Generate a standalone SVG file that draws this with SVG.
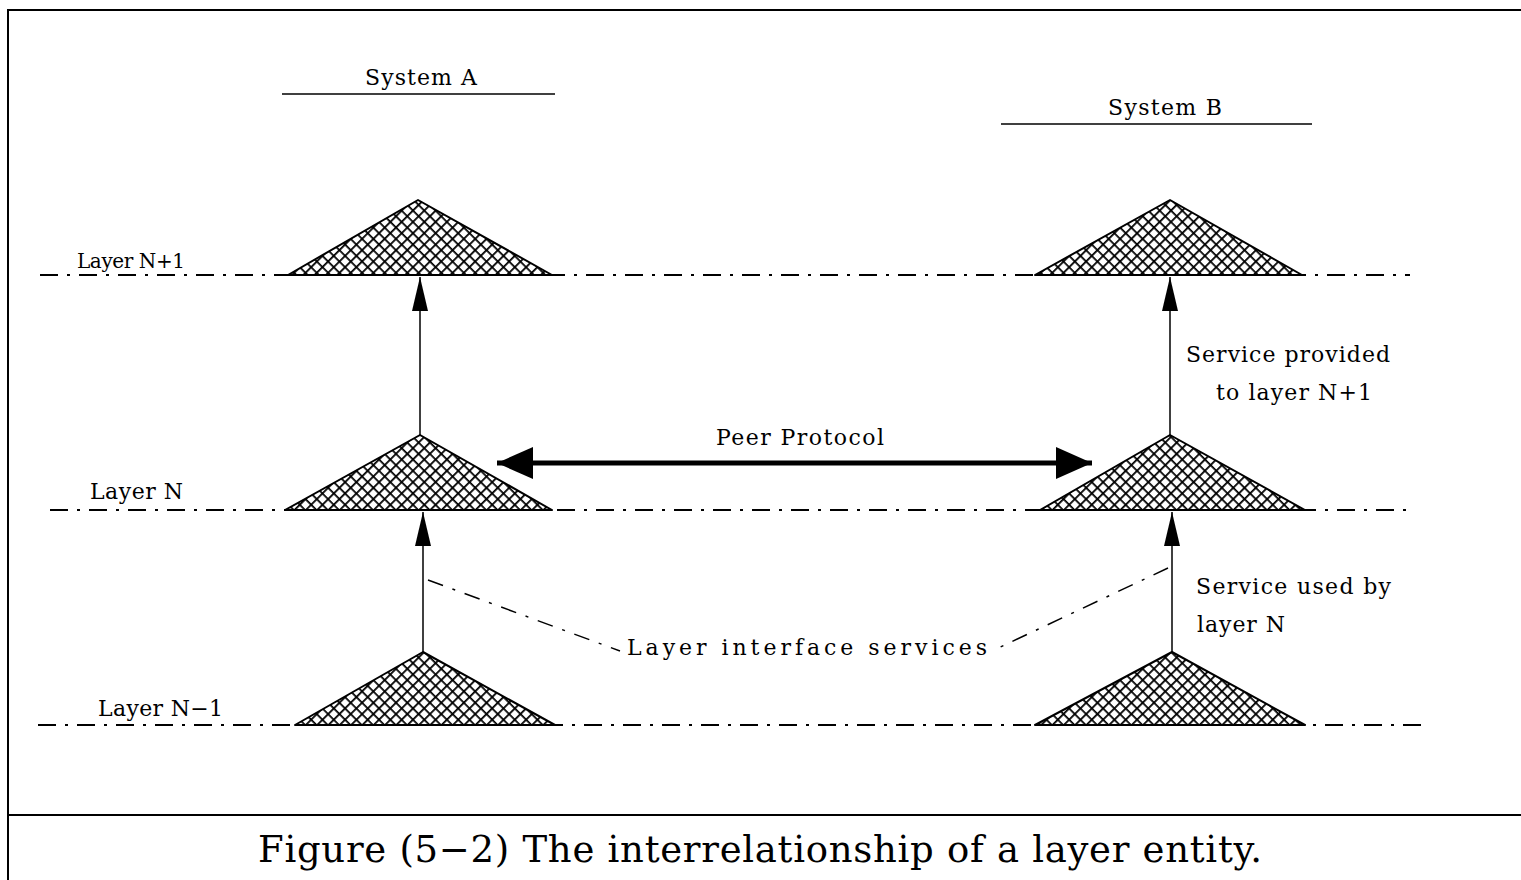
<svg xmlns="http://www.w3.org/2000/svg" width="1521" height="880" viewBox="0 0 1521 880">
<style>
.lbl{font-family:"DejaVu Serif","Liberation Serif",serif;font-size:22px;fill:#000}
.layer{fill:none;stroke:#000;stroke-width:2;stroke-dasharray:18 9 3 9}
.tri{fill:url(#hatch);stroke:#000;stroke-width:2;stroke-linejoin:round}
.conn{stroke:#000;stroke-width:1.5;fill:none}
.lead{stroke:#000;stroke-width:1.5;fill:none;stroke-dasharray:16 10 3 10}
</style>
<defs>
<pattern id="hatch" width="8" height="8" patternUnits="userSpaceOnUse" patternTransform="rotate(45)">
<rect width="8" height="8" fill="#fff"/>
<path d="M0 0H8M0 0V8" stroke="#000" stroke-width="3.6"/>
</pattern>
<marker id="ah" viewBox="0 0 34 16" markerWidth="34" markerHeight="16" refX="34" refY="8" orient="auto" markerUnits="userSpaceOnUse">
<path d="M0 0L34 8L0 16z" fill="#000"/>
</marker>
<marker id="big" viewBox="0 0 36 32" markerWidth="36" markerHeight="32" refX="36" refY="16" orient="auto-start-reverse" markerUnits="userSpaceOnUse">
<path d="M0 0L36 16L0 32z" fill="#000"/>
</marker>
</defs>
<rect width="1521" height="880" fill="#fff"/>
<g id="frame" fill="none" stroke="#000" stroke-width="2">
<path d="M8 880V10H1521"/>
<path d="M8 815H1521"/>
</g>
<g id="layers">
<line class="layer" x1="40" y1="275" x2="1410" y2="275"/>
<line class="layer" x1="50" y1="510" x2="1415" y2="510"/>
<line class="layer" x1="38" y1="725" x2="1425" y2="725"/>
</g>
<g id="systemA">
<text class="lbl" x="421" y="85" text-anchor="middle" textLength="112">System A</text>
<line x1="282" y1="94" x2="555" y2="94" stroke="#000" stroke-width="1.5"/>
</g>
<g id="systemB">
<text class="lbl" x="1165" y="115" text-anchor="middle" textLength="114">System B</text>
<line x1="1001" y1="124" x2="1312" y2="124" stroke="#000" stroke-width="1.5"/>
</g>
<g id="labelN1"><text class="lbl" x="77" y="268" style="font-size:20px" textLength="108">Layer N+1</text></g>
<g id="labelN"><text class="lbl" x="90" y="499" textLength="93">Layer N</text></g>
<g id="labelNm1"><text class="lbl" x="98" y="716" textLength="125">Layer N−1</text></g>
<g id="triA1"><path class="tri" d="M288 275L418 200L552 275Z"/></g>
<g id="triB1"><path class="tri" d="M1035 275L1170 200L1302 275Z"/></g>
<g id="triA2"><path class="tri" d="M285 510L420 435L552 510Z"/></g>
<g id="triB2"><path class="tri" d="M1040 510L1170 435L1305 510Z"/></g>
<g id="triA3"><path class="tri" d="M295 725L423 652L555 725Z"/></g>
<g id="triB3"><path class="tri" d="M1035 725L1172 652L1305 725Z"/></g>
<g id="connectors">
<line class="conn" x1="420" y1="435" x2="420" y2="277" marker-end="url(#ah)"/>
<line class="conn" x1="423" y1="652" x2="423" y2="512" marker-end="url(#ah)"/>
<line class="conn" x1="1170" y1="435" x2="1170" y2="277" marker-end="url(#ah)"/>
<line class="conn" x1="1172" y1="652" x2="1172" y2="512" marker-end="url(#ah)"/>
<line x1="497" y1="463" x2="1092" y2="463" stroke="#000" stroke-width="5" marker-start="url(#big)" marker-end="url(#big)"/>
<line class="lead" x1="428" y1="580" x2="620" y2="651"/>
<line class="lead" x1="1168" y1="568" x2="994" y2="650"/>
</g>
<g id="peer"><text class="lbl" x="800" y="445" text-anchor="middle" textLength="168">Peer Protocol</text></g>
<g id="provided">
<text class="lbl" x="1186" y="362" textLength="204">Service provided</text>
<text class="lbl" x="1216" y="400" textLength="156">to layer N+1</text>
</g>
<g id="used">
<text class="lbl" x="1196" y="594" textLength="195">Service used by</text>
<text class="lbl" x="1197" y="632" textLength="88">layer N</text>
</g>
<g id="interface"><text class="lbl" x="627" y="655" textLength="360">Layer interface services</text></g>
<g id="caption"><text class="lbl" x="258" y="862" style="font-size:37px" textLength="1004">Figure (5−2) The interrelationship of a layer entity.</text></g>
</svg>
